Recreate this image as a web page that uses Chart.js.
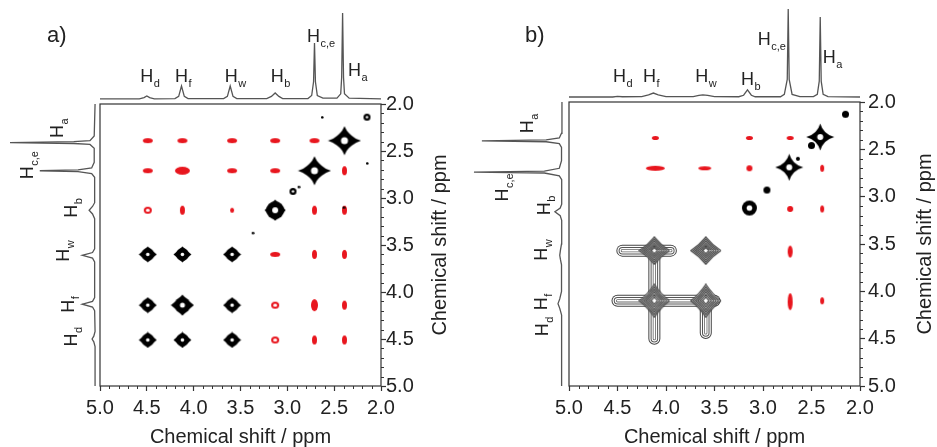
<!DOCTYPE html>
<html>
<head>
<meta charset="utf-8">
<script src="https://cdn.jsdelivr.net/npm/chart.js@4.4.0/dist/chart.umd.min.js"></script>
<style>
  body { margin: 0; background: #fff; width: 937px; height: 447px; position: relative; overflow: hidden; }
  canvas { position: absolute; }
</style>
</head>
<body>
<canvas id="aMain" width="470" height="447" style="left:0;top:0"></canvas>
<canvas id="aTop" width="281" height="100" style="left:100px;top:0"></canvas>
<canvas id="aLeft" width="100" height="282" style="left:0;top:104px"></canvas>
<canvas id="bMain" width="467" height="447" style="left:470px;top:0"></canvas>
<canvas id="bTop" width="291" height="100" style="left:569px;top:0"></canvas>
<canvas id="bLeft" width="99" height="284" style="left:470px;top:102px"></canvas>
<script>
// ---------- data (all in ppm / relative intensity) ----------
const protonSubs = ['a', 'c,e', 'b', 'w', 'f', 'd'];
const shiftsA = [2.41, 2.71, 3.13, 3.61, 4.13, 4.50];
const shiftsB = [2.41, 2.74, 3.16, 3.62, 4.13, 4.50];

// 1H projection, panel a (tallest peak = 100)
const specAppm = [5.00, 4.58, 4.53, 4.50, 4.47, 4.42, 4.20, 4.16, 4.13, 4.10, 4.06, 3.68, 3.64, 3.61, 3.58, 3.54,
  3.22, 3.17, 3.13, 3.09, 3.05, 2.78, 2.74, 2.72, 2.71, 2.70, 2.68, 2.62, 2.47, 2.43, 2.42, 2.41, 2.40, 2.39, 2.34, 2.00];
const specAint = [0, 0, 1.5, 3.5, 1.5, 0, 0.5, 3, 15, 3, 0.5, 0.5, 3, 15, 3, 0.5,
  0.5, 3, 7, 3, 0.5, 0.5, 4, 20, 65, 20, 4, 1, 1, 6, 25, 100, 25, 6, 1, 0];

// 1H projection, panel b
const specBppm = [5.00, 4.55, 4.50, 4.45, 4.25, 4.18, 4.13, 4.08, 4.00, 3.72, 3.66, 3.62, 3.57, 3.50,
  3.25, 3.20, 3.16, 3.12, 3.08, 2.82, 2.78, 2.75, 2.74, 2.73, 2.70, 2.62, 2.48, 2.44, 2.42, 2.41, 2.40, 2.38, 2.33, 2.00];
const specBint = [0, 0, 0.8, 0.3, 0.5, 2.5, 4.5, 2.5, 0.5, 0.5, 1.8, 2.5, 1.8, 0.5,
  0.3, 2, 8, 2, 0.3, 0.3, 3, 20, 100, 20, 3, 0.5, 0.5, 3, 18, 91, 18, 3, 0.5, 0];

// panel a cross peaks [F2, F1]
const aDiagStars = [[2.39, 2.39], [2.71, 2.71]];
const aDiagRing = [[3.13, 3.13]];
const aBlackCross = [[4.49, 3.60], [4.12, 3.60], [3.59, 3.60], [4.49, 4.14], [3.59, 4.14],
  [4.49, 4.51], [4.12, 4.51], [3.59, 4.51]];
const aBlackCrossBig = [[4.12, 4.14]];
const aBlackDotsMid = [[2.94, 2.93], [2.15, 2.14]];
const aBlackDotsSmall = [[2.88, 2.88], [3.37, 3.37], [2.63, 2.14], [2.15, 2.63], [2.40, 3.10]];
const aRedWide = [[4.49, 2.39], [4.12, 2.39], [3.59, 2.39], [3.13, 2.39], [2.71, 2.39],
  [4.49, 2.71], [3.59, 2.71], [3.13, 2.71], [3.13, 3.60]];
const aRedWideBig = [[4.12, 2.71]];
const aRedTall = [[2.39, 2.71], [4.12, 3.13], [2.71, 3.13], [2.39, 3.13], [2.71, 3.60],
  [2.39, 3.60], [2.39, 4.14], [2.71, 4.51], [2.39, 4.51]];
const aRedTallBig = [[2.71, 4.14]];
const aRedSmall = [[3.59, 3.13]];
const aRedRing = [[4.49, 3.13], [3.13, 4.14], [3.13, 4.51]];

// panel b cross peaks
const bDiagStars = [[2.41, 2.37], [2.73, 2.69]];
const bDiagRing = [[3.14, 3.12]];
const bBlackDots = [[2.15, 2.13], [2.50, 2.46], [2.96, 2.93]];
const bBlackDotsSmall = [[2.64, 2.60]];
const bRedSmall = [[4.11, 2.38], [3.14, 2.38], [2.72, 2.38]];
const bRedLong = [[4.11, 2.70]];
const bRedMid = [[3.60, 2.70]];
const bRedDot = [[3.14, 2.70], [2.72, 3.13]];
const bRedTall = [[2.39, 2.70], [2.39, 3.13], [2.39, 4.10]];
const bRedStreak = [[2.72, 3.58]];
const bRedStreakLong = [[2.72, 4.11]];
const bLobesUpper = [[4.12, 3.57], [3.59, 3.57]];
const bLobesLower = [[4.12, 4.10], [3.59, 4.10]];
const bBands = [
  [[4.45, 3.57], [3.95, 3.57]],
  [[4.12, 3.57], [4.12, 4.10]],
  [[4.50, 4.10], [3.50, 4.10]],
  [[4.12, 4.10], [4.12, 4.50]],
  [[3.59, 4.10], [3.59, 4.44]]
];

// ---------- styles ----------
const FONT = '"Liberation Sans", Arial, Helvetica, sans-serif';
const RED = '#e8161e';
const INK = '#222';

function makeImg(w, h, draw) {
  const c = document.createElement('canvas');
  c.width = w; c.height = h;
  draw(c.getContext('2d'), w / 2, h / 2);
  return c;
}
function disc(g, x, y, r, col) {
  g.fillStyle = col; g.beginPath(); g.arc(x, y, r, 0, Math.PI * 2); g.fill();
}
function ellipseImg(w, h, ring) {
  return makeImg(w + 2, h + 2, (g, cx, cy) => {
    g.fillStyle = RED;
    g.beginPath(); g.ellipse(cx, cy, w / 2, h / 2, 0, 0, Math.PI * 2); g.fill();
    if (ring) {
      g.fillStyle = '#fff';
      g.beginPath(); g.ellipse(cx, cy, w / 2 - 2, h / 2 - 2, 0, 0, Math.PI * 2); g.fill();
    }
  });
}
function starPath(g, cx, cy, rx, ry, kx, ky) {
  g.beginPath();
  g.moveTo(cx + rx, cy);
  g.quadraticCurveTo(cx + kx, cy - ky, cx, cy - ry);
  g.quadraticCurveTo(cx - kx, cy - ky, cx - rx, cy);
  g.quadraticCurveTo(cx - kx, cy + ky, cx, cy + ry);
  g.quadraticCurveTo(cx + kx, cy + ky, cx + rx, cy);
}
function starImg(w, h, k, ro, ri) {
  return makeImg(w, h, (g, cx, cy) => {
    g.fillStyle = '#000';
    starPath(g, cx, cy, w / 2 - 0.5, h / 2 - 0.5, k, k);
    g.fill();
    disc(g, cx, cy, ro, '#000');
    if (ri) disc(g, cx, cy, ri, '#fff');
  });
}
function dotImg(r, ri) {
  return makeImg(r * 2 + 2, r * 2 + 2, (g, cx, cy) => {
    disc(g, cx, cy, r, '#000');
    if (ri) disc(g, cx, cy, ri, '#fff');
  });
}
function lobeImg(w, h) {
  return makeImg(w, h, (g, cx, cy) => {
    for (let i = 0; i < 6; i++) {
      const s = 1 - i * 0.155;
      const rx = (w / 2 - 1) * s, ry = (h / 2 - 1) * s;
      starPath(g, cx, cy, rx, ry, rx * 0.42, ry * 0.42);
      if (i === 0) { g.fillStyle = '#fff'; g.fill(); }
      g.strokeStyle = '#444'; g.lineWidth = 1.2; g.stroke();
    }
  });
}

const isMajor = v => Math.abs(v * 2 - Math.round(v * 2)) < 1e-6;
const pts = list => list.map(p => ({ x: p[0], y: p[1] }));
const peaks = (list, img) => ({ data: pts(list), pointStyle: img, pointRadius: 5, showLine: false });

// frame, minor ticks, rotated y title, panel letter
const deco = {
  id: 'deco',
  afterDraw(chart, args, o) {
    const { ctx, chartArea: a, scales: { x, y } } = chart;
    ctx.save();
    ctx.strokeStyle = '#333';
    ctx.lineWidth = 1.2;
    ctx.strokeRect(a.left, a.top, a.right - a.left, a.bottom - a.top);
    ctx.lineWidth = 1;
    ctx.beginPath();
    x.ticks.forEach(t => {
      if (isMajor(t.value)) return;
      const px = Math.round(x.getPixelForValue(t.value)) + 0.5;
      ctx.moveTo(px, a.bottom); ctx.lineTo(px, a.bottom + 3);
    });
    y.ticks.forEach(t => {
      if (isMajor(t.value)) return;
      const py = Math.round(y.getPixelForValue(t.value)) + 0.5;
      ctx.moveTo(a.right, py); ctx.lineTo(a.right + 3, py);
    });
    ctx.stroke();
    ctx.fillStyle = INK;
    ctx.font = '20px ' + FONT;
    ctx.textAlign = 'center';
    ctx.textBaseline = 'middle';
    ctx.save();
    ctx.translate(a.right + o.titleDx, (a.top + a.bottom) / 2);
    ctx.rotate(-Math.PI / 2);
    ctx.fillText('Chemical shift / ppm', 0, 0);
    ctx.restore();
    ctx.font = '22px ' + FONT;
    ctx.textAlign = 'left';
    ctx.textBaseline = 'alphabetic';
    ctx.fillText(o.letter, o.letterX, 42);
    ctx.restore();
  }
};

function mainChart(id, o, layers) {
  const datasets = layers.map((d, i) => Object.assign({ order: layers.length - i }, d));
  const tickFont = { family: FONT, size: 20 };
  return new Chart(document.getElementById(id), {
    type: 'scatter',
    data: { datasets },
    options: {
      responsive: false, animation: false, events: [],
      layout: { padding: { left: o.left, top: o.top, right: 0, bottom: 0 } },
      plugins: {
        legend: { display: false }, tooltip: { enabled: false },
        deco: { titleDx: o.titleDx, letter: o.letter, letterX: o.letterX }
      },
      scales: {
        x: {
          type: 'linear', min: 2, max: 5, reverse: true, position: 'bottom',
          afterFit: s => { s.height = o.xh; },
          border: { display: false },
          grid: { drawOnChartArea: false, tickLength: 5, tickColor: '#333',
            tickWidth: c => (c.tick && isMajor(c.tick.value)) ? 1.2 : 0 },
          ticks: { stepSize: 0.1, autoSkip: false, maxRotation: 0, padding: o.xpad, color: INK, font: tickFont,
            callback: v => isMajor(v) ? v.toFixed(1) : '' },
          title: { display: true, text: 'Chemical shift / ppm', color: INK,
            font: { family: FONT, size: 20, lineHeight: 1 }, padding: 0 }
        },
        y: {
          type: 'linear', min: 2, max: 5, reverse: true, position: 'right',
          afterFit: s => { s.width = o.yw; },
          border: { display: false },
          grid: { drawOnChartArea: false, tickLength: 5, tickColor: '#333',
            tickWidth: c => (c.tick && isMajor(c.tick.value)) ? 1.2 : 0 },
          ticks: { stepSize: 0.1, autoSkip: false, padding: o.ypad, color: INK, font: tickFont,
            callback: v => isMajor(v) ? v.toFixed(1) : '' }
        }
      }
    },
    plugins: [deco]
  });
}

// H labels on the 1D projections
const hLabels = {
  id: 'hLabels',
  afterDraw(chart, args, o) {
    const { ctx, scales: { x, y } } = chart;
    ctx.save();
    ctx.fillStyle = INK;
    o.shifts.forEach((s, i) => {
      let px, py;
      if (o.vertical) { px = o.pos[i]; py = y.getPixelForValue(s) + o.off[i]; }
      else { px = x.getPixelForValue(s) + o.off[i]; py = o.pos[i]; }
      ctx.save();
      ctx.translate(px, py);
      if (o.vertical) ctx.rotate(-Math.PI / 2);
      ctx.font = '18px ' + FONT;
      ctx.textAlign = 'center';
      ctx.textBaseline = 'middle';
      ctx.fillText('H', 0, 0);
      ctx.font = '11px ' + FONT;
      ctx.textAlign = 'left';
      ctx.fillText(o.subs[i], 7, 7);
      ctx.restore();
    });
    ctx.restore();
  }
};

function spectrumChart(id, ppm, inten, o) {
  const data = ppm.map((p, i) => o.vertical ? { x: inten[i], y: p } : { x: p, y: inten[i] });
  const ppmAxis = { type: 'linear', min: 2, max: 5, reverse: true, display: false };
  const intAxis = { type: 'linear', min: o.min, max: o.max, display: false, reverse: !!o.vertical };
  return new Chart(document.getElementById(id), {
    type: 'scatter',
    data: { datasets: [{ data, showLine: true, borderColor: '#555', borderWidth: 1.3, pointRadius: 0, clip: false }] },
    options: {
      responsive: false, animation: false, events: [],
      layout: { padding: 0 },
      plugins: { legend: { display: false }, tooltip: { enabled: false },
        hLabels: { shifts: o.shifts, subs: protonSubs, pos: o.pos, off: o.off, vertical: o.vertical } },
      scales: o.vertical ? { x: intAxis, y: ppmAxis } : { x: ppmAxis, y: intAxis }
    },
    plugins: [hLabels]
  });
}

// ---------- panel a ----------
const imgA = {
  star: starImg(34, 30, 4, 8.5, 3.5),
  ring: starImg(22, 22, 6, 9, 3),
  cross: starImg(19, 17, 4, 6.5, 1.8),
  crossBig: starImg(24, 22, 5, 8, 2.5),
  dotMid: dotImg(3.5, 1.2),
  dotSmall: dotImg(1.3),
  wide: ellipseImg(10, 5),
  wideBig: ellipseImg(15, 8),
  tall: ellipseImg(5, 9),
  tallBig: ellipseImg(7, 12),
  small: ellipseImg(4, 5),
  ring2: ellipseImg(8, 7, true)
};
mainChart('aMain', { left: 100, top: 104, xh: 61, yw: 89, xpad: 5, ypad: 0, titleDx: 59, letter: 'a)', letterX: 47 }, [
  peaks(aRedWide, imgA.wide), peaks(aRedWideBig, imgA.wideBig), peaks(aRedTall, imgA.tall),
  peaks(aRedTallBig, imgA.tallBig), peaks(aRedSmall, imgA.small), peaks(aRedRing, imgA.ring2),
  peaks(aBlackCross, imgA.cross), peaks(aBlackCrossBig, imgA.crossBig), peaks(aDiagStars, imgA.star),
  peaks(aDiagRing, imgA.ring), peaks(aBlackDotsMid, imgA.dotMid), peaks(aBlackDotsSmall, imgA.dotSmall)
]);
spectrumChart('aTop', specAppm, specAint, { min: -1.2, max: 115, shifts: shiftsA,
  pos: [71, 37, 77, 77, 77, 77], off: [12, -1, 2, 1, 0, 0] });
spectrumChart('aLeft', specAppm, specAint, { vertical: true, min: -5.8, max: 111.8, shifts: shiftsA,
  pos: [58, 28, 72, 64, 69, 72], off: [-11, 2, 1, 0, 2, 1] });

// ---------- panel b ----------
const imgB = {
  star: starImg(29, 28, 3, 6.5, 3),
  ring: dotImg(7.5, 2.8),
  dot: dotImg(3.5),
  dotSmall: dotImg(2),
  small: ellipseImg(7, 4),
  long: ellipseImg(19, 5),
  mid: ellipseImg(13, 4),
  dotRed: ellipseImg(6, 6),
  tall: ellipseImg(4, 7),
  streak: ellipseImg(5, 12),
  streakLong: ellipseImg(5, 17),
  lobeU: lobeImg(32, 29),
  lobeL: lobeImg(32, 35)
};
const bLayers = [];
[['#444', 12], ['#fff', 10], ['#555', 7.5], ['#fff', 5.5], ['#666', 3.2], ['#fff', 1.6]].forEach(([c, w]) => {
  bBands.forEach(seg => bLayers.push({ data: pts(seg), showLine: true, borderColor: c, borderWidth: w,
    borderCapStyle: 'round', pointRadius: 0 }));
});
bLayers.push(peaks(bLobesUpper, imgB.lobeU), peaks(bLobesLower, imgB.lobeL),
  peaks(bRedSmall, imgB.small), peaks(bRedLong, imgB.long), peaks(bRedMid, imgB.mid),
  peaks(bRedDot, imgB.dotRed), peaks(bRedTall, imgB.tall), peaks(bRedStreak, imgB.streak),
  peaks(bRedStreakLong, imgB.streakLong), peaks(bDiagStars, imgB.star), peaks(bDiagRing, imgB.ring),
  peaks(bBlackDots, imgB.dot), peaks(bBlackDotsSmall, imgB.dotSmall));
mainChart('bMain', { left: 99, top: 102, xh: 61, yw: 77, xpad: 5, ypad: 3, titleDx: 65, letter: 'b)', letterX: 55 }, bLayers);
spectrumChart('bTop', specBppm, specBint, { min: -3.4, max: 110.2, shifts: shiftsB,
  pos: [58, 40, 80, 77, 77, 77], off: [9, -24, 0, -1, -4, 2] });
spectrumChart('bLeft', specBppm, specBint, { vertical: true, min: -8, max: 104.5, shifts: shiftsB,
  pos: [58, 33, 75, 72, 72, 73], off: [-14, 23, -3, -1, 0, -9] });
</script>
</body>
</html>
